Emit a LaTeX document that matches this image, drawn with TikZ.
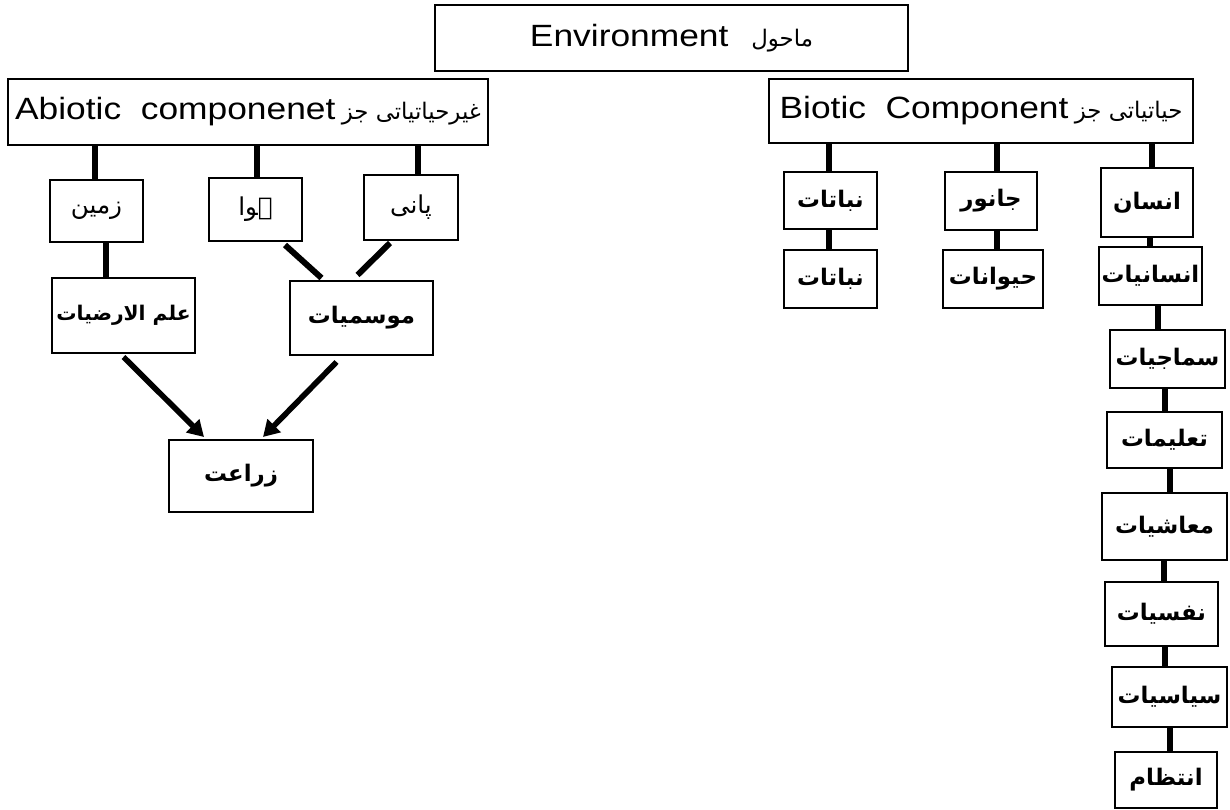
\documentclass[tikz,border=0pt]{standalone}
\usepackage{fontspec}
\setmainfont{Liberation Sans}
\newfontfamily\hfont{Liberation Sans}[FakeStretch=1.15]
\newfontfamily\arfont[Script=Arabic]{DejaVu Sans}
\newfontfamily\arbfont[Script=Arabic]{DejaVu Sans Bold}
\TeXXeTstate=1
\usetikzlibrary{arrows.meta,calc}
\newcommand{\urd}[1]{{\arfont\beginR #1\endR}}
\newcommand{\urb}[1]{{\arbfont\beginR #1\endR}}
\newcommand{\ubox}[6]{%
  \node[box, minimum width={(#4-#2)*0.02cm}, minimum height={(#5-#3)*0.02cm}] (#1) at ({(#2+#4)/2},{(#3+#5)/2}) {#6};}
\begin{document}
\begin{tikzpicture}[x=0.02cm,y=-0.02cm,
  box/.style={draw, line width=1.6pt, inner sep=0pt, outer sep=0pt, align=center, font=\fontsize{13}{16}\selectfont},
  conn/.style={line width=3.4pt},
  arr/.style={line width=3.2pt, -{Triangle[length=0.32cm,width=0.36cm]}}]
\useasboundingbox (0,0) rectangle (1230,810);
\fill[white] (0,0) rectangle (1230,810);
% headers
\ubox{env}{435}{5}{908}{71}{{\hfont\fontsize{17.5}{20}\selectfont Environment}\quad {\fontsize{13}{16}\selectfont\urd{ماحول}}}
\ubox{abio}{8}{79}{488}{145}{{\hfont\fontsize{17.5}{20}\selectfont Abiotic\ \ componenet} {\fontsize{13}{16}\selectfont\urd{غیرحیاتیاتی جز}}}
\ubox{bio}{769}{79}{1193}{143}{{\hfont\fontsize{17.5}{20}\selectfont Biotic\ \ Component} {\fontsize{13}{16}\selectfont\urd{حیاتیاتی جز}}}
% abiotic side
\ubox{zamin}{50}{180}{143}{242}{\fontsize{14}{16}\selectfont\urd{زمین}}
\ubox{hawa}{209}{178}{302}{241}{\fontsize{14}{16}\selectfont\urd{ہوا}}
\ubox{pani}{364}{175}{458}{240}{\fontsize{14}{16}\selectfont\urd{پانی}}
\ubox{ilm}{52}{278}{195}{353}{\fontsize{11.5}{14}\selectfont\urb{علم الارضیات}}
\ubox{mausam}{290}{281}{433}{355}{\urb{موسمیات}}
\ubox{zaraat}{169}{440}{313}{512}{\urb{زراعت}}
% biotic side
\ubox{nab1}{784}{172}{877}{229}{\urb{نباتات}}
\ubox{janwar}{945}{172}{1037}{230}{\urb{جانور}}
\ubox{insan}{1101}{168}{1193}{237}{\urb{انسان}}
\ubox{nab2}{784}{250}{877}{308}{\urb{نباتات}}
\ubox{haiwan}{943}{250}{1043}{308}{\urb{حیوانات}}
\ubox{insaniyat}{1099}{247}{1202}{305}{\urb{انسانیات}}
\ubox{samaj}{1110}{330}{1225}{388}{\urb{سماجیات}}
\ubox{talim}{1107}{412}{1222}{468}{\urb{تعلیمات}}
\ubox{maash}{1102}{493}{1227}{560}{\urb{معاشیات}}
\ubox{nafs}{1105}{582}{1218}{646}{\urb{نفسیات}}
\ubox{siyas}{1112}{667}{1227}{727}{\urb{سیاسیات}}
\ubox{intizam}{1115}{752}{1217}{808}{\urb{انتظام}}
% connectors (abiotic)
\draw[conn] (abio.south -| 95,0) -- (zamin.north -| 95,0);
\draw[conn] (abio.south -| 257,0) -- (hawa.north -| 257,0);
\draw[conn] (abio.south -| 418,0) -- (pani.north -| 418,0);
\draw[conn] (zamin.south -| 106,0) -- (ilm.north -| 106,0);
\draw[conn] ($(hawa.south east)+(-17,4)$) -- ($(mausam.north)+(-40,-3)$);
\draw[conn] ($(pani.south)+(-21,3)$) -- ($(mausam.north)+(-4,-6)$);
\draw[arr] ($(ilm.south)+(0,4)$) -- ($(zaraat.north)+(-37,-3)$);
\draw[arr] ($(mausam.south)+(-25,7)$) -- ($(zaraat.north)+(22,-3)$);
% connectors (biotic)
\draw[conn] (bio.south -| 829,0) -- (nab1.north -| 829,0);
\draw[conn] (bio.south -| 997,0) -- (janwar.north -| 997,0);
\draw[conn] (bio.south -| 1152,0) -- (insan.north -| 1152,0);
\draw[conn] (nab1.south -| 829,0) -- (nab2.north -| 829,0);
\draw[conn] (janwar.south -| 997,0) -- (haiwan.north -| 997,0);
\draw[conn] (insan.south -| 1150,0) -- (insaniyat.north -| 1150,0);
\draw[conn] (insaniyat.south -| 1158,0) -- (samaj.north -| 1158,0);
\draw[conn] (samaj.south -| 1165,0) -- (talim.north -| 1165,0);
\draw[conn] (talim.south -| 1170,0) -- (maash.north -| 1170,0);
\draw[conn] (maash.south -| 1164,0) -- (nafs.north -| 1164,0);
\draw[conn] (nafs.south -| 1165,0) -- (siyas.north -| 1165,0);
\draw[conn] (siyas.south -| 1170,0) -- (intizam.north -| 1170,0);
\end{tikzpicture}
\end{document}
